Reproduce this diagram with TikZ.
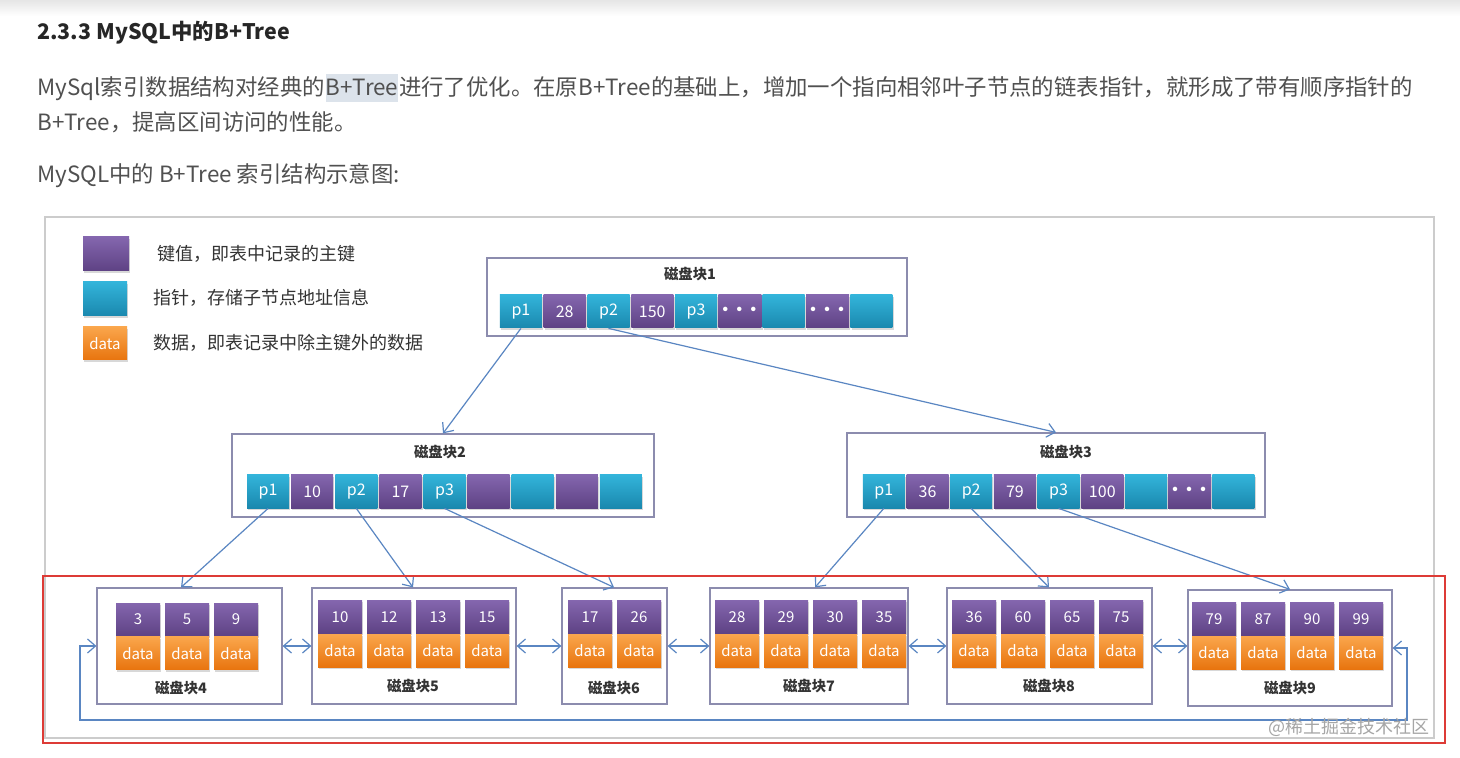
\documentclass[tikz,border=0pt]{standalone}
\usepackage{fontspec}
\setmainfont{Noto Sans CJK SC}
\usetikzlibrary{arrows.meta,positioning,shadows}

\definecolor{keytop}{HTML}{8466AE}
\definecolor{keybot}{HTML}{5E4284}
\definecolor{ptrtop}{HTML}{33B4DA}
\definecolor{ptrbot}{HTML}{1A88AE}
\definecolor{datatop}{HTML}{FAA64C}
\definecolor{databot}{HTML}{E8740E}
\definecolor{framegray}{HTML}{8C8CAE}
\definecolor{linkblue}{HTML}{5A86C2}
\definecolor{markred}{HTML}{DD3B36}
\definecolor{bodygray}{HTML}{505050}
\definecolor{hlgray}{HTML}{DCE3EB}

\tikzset{
  cell/.style={minimum width=21pt, minimum height=16.5pt, inner sep=0pt, text=white,
    font=\fontsize{8}{8}\selectfont,
    drop shadow={shadow xshift=0.6pt, shadow yshift=-0.9pt, opacity=0.3}},
  keycell/.style={cell, top color=keytop, bottom color=keybot},
  ptrcell/.style={cell, top color=ptrtop, bottom color=ptrbot},
  datacell/.style={cell, top color=datatop, bottom color=databot},
  leafkey/.style={keycell, minimum width=22pt, font=\fontsize{7.5}{7.5}\selectfont},
  leafdata/.style={datacell, minimum width=22pt, font=\fontsize{7.5}{7.5}\selectfont},
  blockframe/.style={draw=framegray, fill=white, line width=0.6pt, inner sep=0pt},
  blklabel/.style={font=\fontsize{7.2}{7.2}\selectfont\bfseries, text=black!80},
  legendtext/.style={anchor=west, font=\fontsize{9}{9}\selectfont, text=black!80},
  bodytext/.style={anchor=base west, inner sep=0pt, font=\fontsize{11.2}{11.2}\selectfont, text=bodygray},
  link/.style={draw=linkblue, line width=0.6pt, -{Straight Barb[length=4pt,width=7pt]}},
  duallink/.style={draw=linkblue, line width=0.6pt, {Straight Barb[length=4pt,width=7pt]}-{Straight Barb[length=4pt,width=7pt]}}
}
\newcommand{\celldots}{\textbf{\kern-0.5pt·\kern-1pt·\kern-1pt·}}

\begin{document}
\begin{tikzpicture}[x=0.5pt, y=-0.5pt]
  \useasboundingbox (0,0) rectangle (1460,758);
  \fill[white] (0,0) rectangle (1460,758);
  \shade[top color=black!10, bottom color=white] (0,0) rectangle (1460,16);

  % Heading and text
  \node[bodytext, font=\fontsize{10.7}{10.7}\selectfont\bfseries, text=black!85] (title) at (37,40) {2.3.3 MySQL中的B+Tree};
  \node[bodytext] (para1a) at (37,96) {MySql索引数据结构对经典的};
  \node[bodytext, fill=hlgray, inner ysep=3pt] (para1b) at (para1a.base east) {B+Tree};
  \node[bodytext] (para1c) at (para1b.base east) {进行了优化。在原B+Tree的基础上，增加一个指向相邻叶子节点的链表指针，就形成了带有顺序指针的};
  \node[bodytext] (para2) at (37,131) {B+Tree，提高区间访问的性能。};
  \node[bodytext] (para3) at (37,183) {MySQL中的 B+Tree 索引结构示意图:};

  % Picture frame
  \draw[black!20, line width=0.8pt] (45,217) rectangle (1434,738);

  % Legend
  \node[keycell, minimum width=23pt, minimum height=17pt] (legkey) at (106,254) {};
  \node[ptrcell, minimum width=22pt, minimum height=17pt] (legptr) at (105,299) {};
  \node[datacell, minimum width=22pt, minimum height=16.5pt, font=\fontsize{7.5}{7.5}\selectfont] (legdata) at (105,343.5) {data};
  \node[legendtext] (legkeytxt) at (150,254) {键值，即表中记录的主键};
  \node[legendtext] (legptrtxt) at (146,298) {指针，存储子节点地址信息};
  \node[legendtext] (legdatatxt) at (146,343) {数据，即表记录中除主键外的数据};

  % Root block
  \node[blockframe, minimum width=210pt, minimum height=39pt] (blk1) at (697,297) {};
  \node[blklabel] (lbl1) at (690,274) {磁盘块1};
  \foreach \t/\s [count=\i] in {p1/ptrcell, 28/keycell, p2/ptrcell, 150/keycell, p3/ptrcell, \celldots/keycell, {}/ptrcell, \celldots/keycell, {}/ptrcell}
    \node[\s] (b1c\i) at ({499+43.8*\i-21.9}, 311.5) {\t};

  % Inner blocks
  \node[blockframe, minimum width=211pt, minimum height=41.5pt] (blk2) at (443,475.5) {};
  \node[blklabel] (lbl2) at (440,452) {磁盘块2};
  \foreach \t/\s [count=\i] in {p1/ptrcell, 10/keycell, p2/ptrcell, 17/keycell, p3/ptrcell, {}/keycell, {}/ptrcell, {}/keycell, {}/ptrcell}
    \node[\s] (b2c\i) at ({246+44.1*\i-22}, 491.5) {\t};

  \node[blockframe, minimum width=209pt, minimum height=42pt] (blk3) at (1056,475) {};
  \node[blklabel] (lbl3) at (1066,452) {磁盘块3};
  \foreach \t/\s [count=\i] in {p1/ptrcell, 36/keycell, p2/ptrcell, 79/keycell, p3/ptrcell, 100/keycell, {}/ptrcell, \celldots/keycell, {}/ptrcell}
    \node[\s] (b3c\i) at ({862+43.7*\i-21.9}, 491.5) {\t};

  % Leaf blocks
  \foreach \n/\fx/\fy/\fw/\lx/\ly/\sx/\ky/\keys in {
      4/189.5/646/185/181/688/116/619.5/{3,5,9},
      5/414/646/204/413/686/318/617/{10,12,13,15},
      6/614.5/646/105/614/688/568/617/{17,26},
      7/809/646/198/809/686/715/617/{28,29,30,35},
      8/1049.5/646/205/1049/686/952/617/{36,60,65,75},
      9/1290/648/204/1290/688/1192/619/{79,87,90,99}} {
    \node[blockframe, minimum width=\fw*0.5pt, minimum height=58pt] (blk\n) at (\fx,\fy) {};
    \node[blklabel] (lbl\n) at (\lx,\ly) {磁盘块\n};
    \foreach \k [count=\i] in \keys {
      \node[leafkey] (l\n k\i) at ({\sx+49*\i-27}, \ky) {\k};
      \node[leafdata, below=0pt of l\n k\i] (l\n d\i) {data};
    }
  }

  % Tree pointers
  \draw[link] (b1c1.south) -- (blk2.north);
  \draw[link] (b1c3.south) -- (blk3.north);
  \draw[link] (b2c1.south) -- (blk4.north -| lbl4);
  \draw[link] (b2c3.south) -- (blk5.north -| lbl5);
  \draw[link] (b2c5.south) -- (blk6.north -| lbl6);
  \draw[link] (b3c1.south) -- ([xshift=3pt]blk7.north -| lbl7);
  \draw[link] (b3c3.south) -- (blk8.north -| lbl8);
  \draw[link] (b3c5.south) -- (blk9.north -| lbl9);

  % Leaf chain
  \draw[duallink] (blk4.east) -- (blk5.west);
  \draw[duallink] (blk5.east) -- (blk6.west);
  \draw[duallink] (blk6.east) -- (blk7.west);
  \draw[duallink] (blk7.east) -- (blk8.west);
  \draw[duallink] (blk8.east) -- (blk8.east -| blk9.west);
  \coordinate (loopL) at (80,720);
  \coordinate (loopR) at (1407,720);
  \draw[duallink] (blk4.west) -| (loopL) -- (loopR) |- (blk9.east);

  % Marked leaf level
  \draw[markred, line width=0.6pt] (43,576) rectangle (1445,743);
  \node[anchor=east, font=\fontsize{9}{9}\selectfont, text=black!35] (mark) at (1437,727) {@稀土掘金技术社区};
\end{tikzpicture}
\end{document}
